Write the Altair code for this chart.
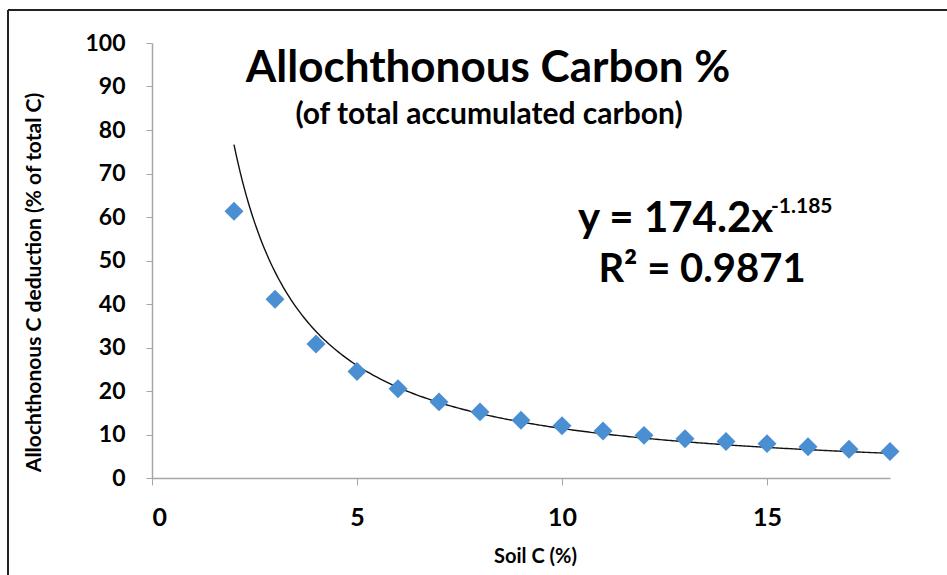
import altair as alt
import pandas as pd

# ---- data ----
soil_c = [2, 3, 4, 5, 6, 7, 8, 9, 10, 11, 12, 13, 14, 15, 16, 17, 18]
alloch_c = [61.3, 41.1, 30.8, 24.5, 20.5, 17.5, 15.2, 13.3, 12.0, 10.8, 9.8, 9.0, 8.4, 7.9, 7.2, 6.6, 6.1]

# power trend line shown in the chart: y = 174.2 x^-1.185
trend_a = 174.2
trend_b = -1.185
trend_range = [2, 18]

x_ticks = [0, 5, 10, 15]
y_ticks = [0, 10, 20, 30, 40, 50, 60, 70, 80, 90, 100]

FONT = "Lato"
W, H = 738, 435
PL, PT = 152, 43
PR, PB = 947 - PL - W, 575 - PT - H

df = pd.DataFrame({"x": soil_c, "y": alloch_c})

xs = alt.X("x:Q", scale=alt.Scale(domain=[0, 18], nice=False),
           axis=alt.Axis(values=x_ticks, title="Soil C (%)", grid=False,
                         domainColor="#a6a6a6", tickColor="#a6a6a6", tickSize=7,
                         domainWidth=1.5, labelFont=FONT, labelFontSize=25,
                         labelFontWeight="bold", labelColor="#000", labelPadding=20,
                         titleFont=FONT, titleFontSize=20, titleFontWeight="bold",
                         titleColor="#000", titlePadding=16, titleX=383))
ys = alt.Y("y:Q", scale=alt.Scale(domain=[0, 100], nice=False),
           axis=alt.Axis(values=y_ticks, title="Allochthonous C deduction (% of total C)",
                         grid=False, domainColor="#a6a6a6", tickColor="#a6a6a6",
                         tickSize=6, domainWidth=1.5, labelFont=FONT, labelFontSize=23,
                         labelFontWeight="bold", labelColor="#000", labelPadding=21,
                         titleFont=FONT, titleFontSize=21, titleFontWeight="bold",
                         titleColor="#000", titlePadding=40, titleY=239))

points = alt.Chart(df).mark_point(shape="diamond", filled=True, size=360,
                                  color="#4a8fd2", opacity=1).encode(x=xs, y=ys)

curve = (alt.Chart(alt.sequence(trend_range[0], trend_range[1] + 0.001, 0.05, as_="x"))
         .transform_calculate(y=f"{trend_a} * pow(datum.x, {trend_b})")
         .mark_line(color="#111", strokeWidth=1.4)
         .encode(x="x:Q", y="y:Q"))


def label(text, x, y, size, align="center", weight="bold"):
    return alt.Chart(pd.DataFrame({"t": [text]})).mark_text(
        font=FONT, fontSize=size, fontWeight=weight, color="#000",
        align=align, baseline="alphabetic").encode(
        x=alt.value(x), y=alt.value(y), text="t:N")


title = label("Allochthonous Carbon %", 336, 39, 44)
subtitle = label("(of total accumulated carbon)", 337, 81, 30)
eq1 = label("y = 174.2x", 426, 189, 42, align="left")
eq1sup = label("-1.185", 619, 170, 21, align="left")
eq2 = label("R² = 0.9871", 550, 239, 40)

frame_top = alt.Chart(pd.DataFrame({"a": [0]})).mark_rule(color="#222", strokeWidth=2).encode(
    x=alt.value(-144), x2=alt.value(800), y=alt.value(-33))
frame_left = alt.Chart(pd.DataFrame({"a": [0]})).mark_rule(color="#222", strokeWidth=2).encode(
    x=alt.value(-144), y=alt.value(-33), y2=alt.value(540))

chart = (alt.layer(frame_top, frame_left, curve, points, title, subtitle, eq1, eq1sup, eq2)
         .properties(width=W, height=H, autosize=alt.AutoSizeParams(type="none"),
                     padding={"left": PL, "top": PT, "right": PR, "bottom": PB},
                     background="white")
         .configure_view(stroke=None))

chart.save("out.html", embed_options={"renderer": "svg", "actions": False})
